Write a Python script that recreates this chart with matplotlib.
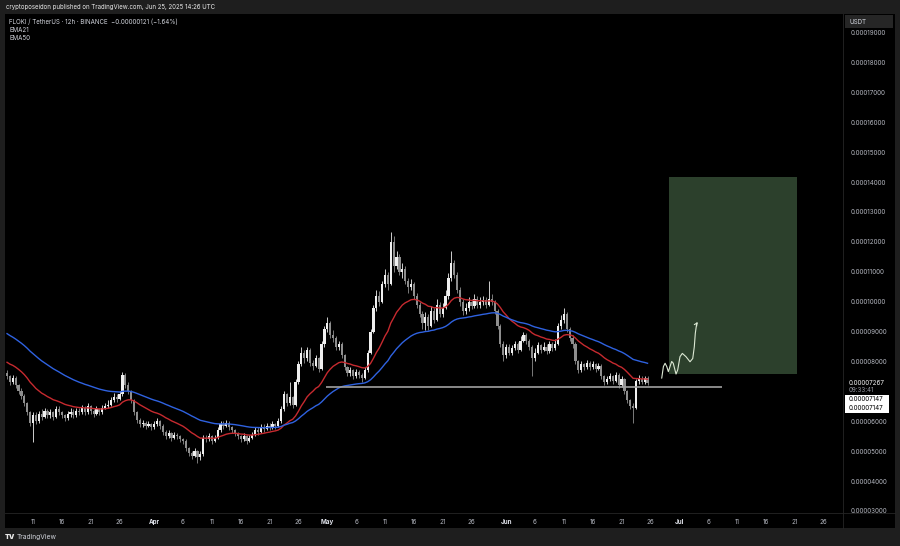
import matplotlib.pyplot as plt
import matplotlib.dates as mdates
from matplotlib.patches import Rectangle
import numpy as np
import pandas as pd

plt.rcParams['font.family'] = ['Inter', 'DejaVu Sans']

# FLOKI / USDT, 12h candles, prices in units of 1e-5 USDT
first_candle = '2025-03-06 12:00'
first_open = 7.60
closes = [
    7.50, 7.30, 7.45, 7.20, 7.00, 6.85, 6.60, 6.30, 5.95, 6.20,
    6.00, 6.25, 6.15, 6.35, 6.20, 6.30, 6.15, 6.40, 6.30, 6.20,
    6.10, 6.25, 6.30, 6.20, 6.35, 6.30, 6.45, 6.30, 6.50, 6.35,
    6.25, 6.40, 6.30, 6.45, 6.50, 6.55, 6.70, 6.80, 6.75, 6.90,
    7.55, 7.20, 7.00, 6.70, 6.30, 6.05, 5.90, 5.95, 5.85, 5.90,
    5.80, 5.90, 6.00, 5.85, 5.65, 5.50, 5.60, 5.45, 5.55, 5.50,
    5.40, 5.35, 5.10, 4.95, 4.85, 5.00, 4.80, 4.90, 5.45, 5.40,
    5.50, 5.35, 5.45, 5.70, 5.90, 5.85, 5.95, 5.80, 5.70, 5.60,
    5.50, 5.40, 5.50, 5.35, 5.45, 5.55, 5.70, 5.65, 5.80, 5.75,
    5.85, 5.80, 5.90, 5.85, 6.00, 6.40, 6.90, 6.60, 6.80, 6.55,
    7.30, 7.90, 8.30, 8.10, 8.40, 7.95, 7.85, 8.10, 7.75, 8.60,
    9.10, 9.30, 8.90, 8.80, 8.50, 8.60, 8.20, 7.80, 7.60, 7.70,
    7.50, 7.65, 7.55, 7.45, 7.70, 8.30, 9.00, 9.80, 10.20, 10.00,
    10.60, 10.90, 10.60, 12.00, 11.20, 11.50, 11.00, 11.10, 10.70, 10.50,
    10.60, 10.20, 9.90, 9.60, 9.30, 9.50, 9.20, 9.70, 9.40, 9.90,
    9.60, 9.80, 10.20, 10.80, 11.30, 10.90, 10.40, 10.00, 9.70, 9.80,
    10.00, 9.85, 10.10, 9.90, 10.00, 10.05, 9.90, 10.10, 10.00, 9.70,
    9.20, 8.60, 8.20, 8.50, 8.30, 8.45, 8.60, 8.40, 8.70, 8.90,
    8.70, 8.50, 8.10, 8.30, 8.55, 8.40, 8.50, 8.35, 8.60, 8.45,
    8.60, 9.20, 9.40, 9.60, 9.10, 8.80, 8.60, 8.00, 7.70, 7.90,
    7.80, 7.95, 7.80, 7.90, 7.75, 7.85, 7.50, 7.30, 7.40, 7.50,
    7.35, 7.55, 7.20, 7.40, 7.00, 6.70, 6.50, 6.45, 7.35, 7.40,
    7.30, 7.45, 7.27,
]
highs = [
    7.70, 7.55, 7.55, 7.50, 7.25, 7.10, 6.90, 6.65, 6.35, 6.30,
    6.30, 6.35, 6.40, 6.45, 6.40, 6.40, 6.35, 6.50, 6.50, 6.35,
    6.25, 6.35, 6.45, 6.40, 6.45, 6.45, 6.55, 6.50, 6.60, 6.55,
    6.40, 6.50, 6.45, 6.55, 6.60, 6.70, 6.80, 6.95, 6.90, 7.00,
    7.65, 7.60, 7.30, 7.05, 6.75, 6.35, 6.10, 6.05, 6.00, 6.00,
    5.95, 6.00, 6.10, 6.05, 5.90, 5.70, 5.70, 5.65, 5.65, 5.60,
    5.55, 5.45, 5.40, 5.15, 5.00, 5.10, 5.05, 5.00, 5.55, 5.55,
    5.60, 5.55, 5.55, 5.80, 6.00, 6.00, 6.05, 6.00, 5.85, 5.75,
    5.65, 5.55, 5.60, 5.55, 5.55, 5.65, 5.80, 5.80, 5.90, 5.90,
    5.95, 5.95, 6.00, 5.95, 6.10, 6.50, 7.00, 6.95, 7.30, 6.85,
    7.40, 8.00, 8.50, 8.40, 8.50, 8.45, 8.05, 8.20, 8.15, 8.70,
    9.20, 9.50, 9.35, 9.05, 8.85, 8.70, 8.65, 8.25, 7.85, 7.80,
    7.75, 7.75, 7.70, 7.60, 7.80, 8.40, 9.10, 9.90, 10.40, 10.35,
    10.70, 11.10, 11.00, 12.33, 12.20, 11.70, 11.60, 11.30, 11.20, 10.80,
    10.75, 10.65, 10.30, 10.00, 9.70, 9.65, 9.60, 9.85, 9.80, 10.10,
    10.00, 9.95, 10.40, 10.95, 11.70, 11.40, 11.00, 10.50, 10.10, 9.95,
    10.15, 10.10, 10.25, 10.20, 10.15, 10.20, 10.15, 10.70, 10.25, 10.05,
    9.75, 9.25, 8.70, 8.60, 8.60, 8.55, 8.70, 8.65, 8.85, 9.00,
    8.95, 8.75, 8.55, 8.45, 8.65, 8.60, 8.65, 8.60, 8.70, 8.65,
    8.75, 9.30, 9.55, 9.80, 9.65, 9.15, 8.90, 8.65, 8.05, 8.00,
    7.95, 8.05, 8.00, 8.00, 7.95, 7.95, 7.90, 7.55, 7.50, 7.60,
    7.55, 7.65, 7.60, 7.50, 7.45, 7.05, 6.75, 6.60, 7.40, 7.55,
    7.50, 7.50, 7.50,
]
lows = [
    7.40, 7.20, 7.25, 7.10, 6.90, 6.75, 6.50, 6.20, 5.85, 5.30,
    5.90, 5.95, 6.05, 6.10, 6.10, 6.10, 6.05, 6.10, 6.20, 6.10,
    6.00, 6.05, 6.15, 6.10, 6.15, 6.20, 6.25, 6.20, 6.25, 6.25,
    6.15, 6.20, 6.20, 6.25, 6.40, 6.45, 6.50, 6.65, 6.65, 6.70,
    6.85, 7.10, 6.90, 6.60, 6.20, 5.95, 5.80, 5.80, 5.75, 5.80,
    5.70, 5.75, 5.85, 5.75, 5.55, 5.40, 5.45, 5.35, 5.40, 5.40,
    5.30, 5.25, 5.00, 4.85, 4.75, 4.80, 4.60, 4.70, 4.85, 5.30,
    5.35, 5.25, 5.30, 5.40, 5.65, 5.75, 5.80, 5.70, 5.60, 5.50,
    5.40, 5.30, 5.35, 5.25, 5.30, 5.40, 5.50, 5.55, 5.60, 5.65,
    5.70, 5.70, 5.75, 5.75, 5.80, 5.95, 6.35, 6.50, 6.55, 6.45,
    6.50, 7.25, 7.85, 7.95, 8.00, 7.85, 7.70, 7.80, 7.65, 7.70,
    8.50, 9.00, 8.80, 8.65, 8.40, 8.40, 8.10, 7.70, 7.50, 7.50,
    7.40, 7.45, 7.45, 7.30, 7.40, 7.65, 8.25, 8.95, 9.70, 9.85,
    9.95, 10.50, 10.40, 10.55, 11.00, 11.10, 10.90, 10.80, 10.60, 10.30,
    10.40, 10.10, 9.80, 9.50, 9.10, 9.05, 9.05, 9.15, 9.30, 9.35,
    9.50, 9.50, 9.75, 10.10, 10.70, 10.80, 10.30, 9.85, 9.55, 9.60,
    9.70, 9.75, 9.80, 9.80, 9.80, 9.90, 9.80, 9.85, 9.90, 9.60,
    9.10, 8.50, 8.00, 8.10, 8.20, 8.20, 8.40, 8.30, 8.35, 8.65,
    8.60, 8.40, 7.50, 8.00, 8.25, 8.30, 8.35, 8.25, 8.30, 8.35,
    8.40, 8.55, 9.10, 9.30, 9.00, 8.70, 8.45, 7.90, 7.60, 7.65,
    7.70, 7.75, 7.70, 7.75, 7.65, 7.70, 7.40, 7.20, 7.25, 7.35,
    7.25, 7.30, 7.10, 7.15, 6.90, 6.60, 6.40, 5.95, 6.40, 7.25,
    7.25, 7.25, 7.20,
]

# EMA values at the left edge of the chart (history before the visible range)
ema21_seed = 8.02
ema50_seed = 8.99

price_ticks = [3, 4, 5, 6, 8, 9, 10, 11, 12, 13, 14, 15, 16, 17, 18, 19]
date_ticks = ['2025-03-11', '2025-03-16', '2025-03-21', '2025-03-26', '2025-04-01',
              '2025-04-06', '2025-04-11', '2025-04-16', '2025-04-21', '2025-04-26',
              '2025-05-01', '2025-05-06', '2025-05-11', '2025-05-16', '2025-05-21',
              '2025-05-26', '2025-06-01', '2025-06-06', '2025-06-11', '2025-06-16',
              '2025-06-21', '2025-06-26', '2025-07-01', '2025-07-06', '2025-07-11',
              '2025-07-16', '2025-07-21', '2025-07-26']
date_labels = ['11', '16', '21', '26', 'Apr', '6', '11', '16', '21', '26', 'May', '6',
               '11', '16', '21', '26', 'Jun', '6', '11', '16', '21', '26', 'Jul', '6',
               '11', '16', '21', '26']

# drawings
support_price = 7.147
support_start, support_end = '2025-04-30 19:00', '2025-07-08 10:00'
box_start, box_end = '2025-06-29 05:00', '2025-07-21 10:00'
box_low, box_high = 7.58, 14.17
path_dates = ['2025-06-27 23:00', '2025-06-28 06:00', '2025-06-28 13:00', '2025-06-28 20:00',
              '2025-06-29 02:30', '2025-06-29 09:30', '2025-06-29 16:30', '2025-06-29 23:00',
              '2025-06-30 10:30', '2025-06-30 17:30', '2025-07-01 03:00', '2025-07-01 12:45',
              '2025-07-02 04:00', '2025-07-02 20:40', '2025-07-03 08:00', '2025-07-03 14:30',
              '2025-07-03 18:40', '2025-07-04 00:30', '2025-07-04 04:30']
path_prices = [7.44, 7.83, 7.94, 7.83, 7.66, 7.83, 8.00, 7.94, 7.58, 7.72,
               8.16, 8.27, 8.16, 7.99, 8.10, 8.49, 8.94, 9.27, 9.32]

BG = '#1e1e1e'
TXT = '#b2b5be'
W, H = 900, 546


def fx(px):
    return px / W


def fy(py):
    return 1 - py / H


times = pd.date_range(first_candle, periods=len(closes), freq='12h')
x = mdates.date2num(times)
c = np.array(closes)
o = np.concatenate([[first_open], c[:-1]])
h = np.array(highs)
l = np.array(lows)

ema21, ema50 = [], []
e21, e50 = ema21_seed, ema50_seed
for v in closes:
    e21 += 2 / 22 * (v - e21)
    e50 += 2 / 51 * (v - e50)
    ema21.append(e21)
    ema50.append(e50)

fig = plt.figure(figsize=(9, 5.46), dpi=100, facecolor=BG)
fig.add_artist(Rectangle((fx(5), fy(528)), fx(890), 514 / H, transform=fig.transFigure,
                         facecolor='black', edgecolor='none', zorder=0))

ax = fig.add_axes([fx(5), fy(513), fx(838), 499 / H])
ax.set_facecolor('black')

up = c >= o
colors = np.where(up, '#efefef', '#8e8e8e')
ax.vlines(x, l, h, colors=colors, linewidth=0.6, zorder=3)
ax.bar(x, np.maximum(np.abs(c - o), 0.04), bottom=np.minimum(o, c), width=0.38,
       color=colors, linewidth=0, zorder=4)

ax.plot(x, ema21, color='#c62a2f', linewidth=1.0, zorder=5)
ax.plot(x, ema50, color='#2f62e0', linewidth=1.0, zorder=5)

ax.hlines(support_price, mdates.datestr2num(support_start), mdates.datestr2num(support_end),
          color='#a0a0a0', linewidth=1.2, zorder=6)

bx0, bx1 = mdates.datestr2num(box_start), mdates.datestr2num(box_end)
ax.add_patch(Rectangle((bx0, box_low), bx1 - bx0, box_high - box_low,
                       facecolor='#2c402c', edgecolor='none', zorder=2))

px_ = mdates.datestr2num(path_dates)
ax.plot(px_[:-1], path_prices[:-1], color='#dce8d4', linewidth=0.8, zorder=6,
        solid_joinstyle='round', solid_capstyle='round')
ax.annotate('', xy=(px_[-1], path_prices[-1]), xytext=(px_[-2], path_prices[-2]),
            arrowprops=dict(arrowstyle='->', color='#dce8d4', lw=0.8,
                            shrinkA=0, shrinkB=0, mutation_scale=5), zorder=6)

ax.set_xlim(mdates.datestr2num('2025-03-06 03:30'), mdates.datestr2num('2025-07-29 09:00'))
ax.set_ylim(2.933, 19.62)

ax.yaxis.tick_right()
ax.set_yticks(price_ticks)
ax.set_yticklabels([f'{p / 1e5:.8f}' for p in price_ticks])
ax.tick_params(axis='y', length=0, pad=5.5, labelsize=4.5, labelcolor=TXT)

ax.set_xticks(mdates.datestr2num(date_ticks))
ax.set_xticklabels(date_labels)
ax.tick_params(axis='x', length=0, pad=4, labelsize=4.5, labelcolor=TXT)
for t in ax.get_xticklabels():
    if t.get_text() in ('Apr', 'May', 'Jun', 'Jul'):
        t.set_color('#e0e3eb')
        t.set_fontweight('bold')

for s in ax.spines.values():
    s.set_visible(False)
fig.add_artist(plt.Line2D([fx(843), fx(843)], [fy(14), fy(528)], transform=fig.transFigure,
                          color='#262626', linewidth=0.6))
fig.add_artist(plt.Line2D([fx(5), fx(895)], [fy(513), fy(513)], transform=fig.transFigure,
                          color='#262626', linewidth=0.6))

# header and legend
fig.text(fx(6), fy(7), 'cryptoposeidon published on TradingView.com, Jun 25, 2025 14:26 UTC',
         color='#e8e8e8', fontsize=4.4, va='center')
fig.text(fx(9), fy(22), 'FLOKI / TetherUS · 12h · BINANCE  \u22120.00000121 (\u22121.64%)',
         color='#d1d4dc', fontsize=4.45, va='center')
fig.text(fx(9), fy(30), 'EMA21', color='#d1d4dc', fontsize=4.45, va='center')
fig.text(fx(9), fy(38.5), 'EMA50', color='#d1d4dc', fontsize=4.45, va='center')

# price scale extras
fig.add_artist(Rectangle((fx(845), fy(28)), fx(48), 13 / H, transform=fig.transFigure,
                         facecolor='#262626', edgecolor='none'))
fig.text(fx(850), fy(21.5), 'USDT', color='#d1d4dc', fontsize=4.5, va='center')
fig.text(fx(849), fy(383), '0.00007267', color='#f0f0f0', fontsize=4.5, va='center')
fig.text(fx(849), fy(390.5), '09:33:41', color='#9598a1', fontsize=4.5, va='center')
fig.add_artist(Rectangle((fx(845), fy(413)), fx(44), 18 / H, transform=fig.transFigure,
                         facecolor='white', edgecolor='none'))
fig.text(fx(849), fy(399), '0.00007147', color='black', fontsize=4.5, va='center')
fig.text(fx(849), fy(407.5), '0.00007147', color='black', fontsize=4.5, va='center')

# footer
fig.text(fx(5), fy(537), 'TV', color='#e8e8e8', fontsize=5, fontweight='black', va='center')
fig.text(fx(17), fy(537), 'TradingView', color='#d1d4dc', fontsize=4.8, va='center')

fig.savefig('out.png', dpi=100, facecolor=BG)
